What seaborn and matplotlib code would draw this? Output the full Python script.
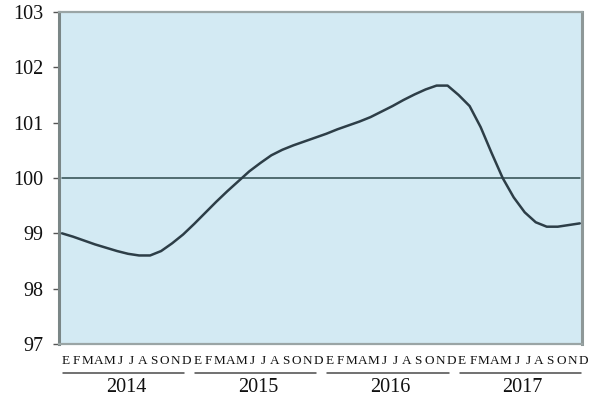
import numpy as np
import pandas as pd
import matplotlib
matplotlib.use("Agg")
import matplotlib.pyplot as plt
import matplotlib.transforms as mtransforms
import seaborn as sns

# Monthly index values, January 2014 – December 2017
years = ["2014", "2015", "2016", "2017"]
month_letters = ["E", "F", "M", "A", "M", "J", "J", "A", "S", "O", "N", "D"]
index_values = [
    99.00, 98.94, 98.87, 98.80, 98.74, 98.68, 98.63, 98.60, 98.60, 98.68, 98.82, 98.98,
    99.17, 99.37, 99.57, 99.76, 99.94, 100.12, 100.27, 100.41, 100.51, 100.59, 100.66, 100.73,
    100.80, 100.88, 100.95, 101.02, 101.10, 101.20, 101.30, 101.41, 101.51, 101.60, 101.67, 101.67,
    101.50, 101.30, 100.92, 100.45, 100.00, 99.65, 99.38, 99.20, 99.12, 99.12, 99.15, 99.18,
]
base_level = 100
y_ticks = [97, 98, 99, 100, 101, 102, 103]

n_months = len(index_values)
df = pd.DataFrame({"t": np.arange(n_months), "value": index_values})

sns.set_theme(style="white")
plt.rcParams["font.family"] = ["Liberation Serif", "DejaVu Serif"]

fig = plt.figure(figsize=(5.95, 3.98), dpi=100)
ax = fig.add_axes([59 / 595, 1 - 344 / 398, (582 - 59) / 595, (344 - 12) / 398])
ax.set_facecolor("#d3eaf3")

# Base-100 reference line across the period
ax.plot([0, n_months - 1], [base_level, base_level], color="#2c4a4c", lw=1.1, zorder=2)

sns.lineplot(data=df, x="t", y="value", ax=ax, color="#2d3e47", lw=1.8, zorder=3)

ax.set_xlim(-0.27, n_months - 1 + 0.2)
ax.set_ylim(97, 103)
ax.set_yticks(y_ticks)
ax.set_yticklabels([str(v) for v in y_ticks], fontsize=14.5, color="#111111")
ax.set_xticks([])
ax.set_xlabel("")
ax.set_ylabel("")
ax.tick_params(axis="y", which="major", direction="out", length=4, width=1.0,
               color="#555555", pad=7, left=True)

ax.spines["left"].set_color("#7a8686")
ax.spines["left"].set_linewidth(2.2)
ax.spines["right"].set_color("#8e9898")
ax.spines["right"].set_linewidth(2.2)
ax.spines["top"].set_color("#9aa5a5")
ax.spines["top"].set_linewidth(1.6)
ax.spines["bottom"].set_color("#9aa5a5")
ax.spines["bottom"].set_linewidth(1.6)

trans = mtransforms.blended_transform_factory(ax.transData, ax.transAxes)
ax_h = (344 - 12)

# Month initials under each month
for i in range(n_months):
    ax.text(i + 0.3, -(361 - 344) / ax_h, month_letters[i % 12], transform=trans,
            ha="center", va="center", fontsize=9.5, color="#111111", clip_on=False)

# Year brackets and labels
for k, yr in enumerate(years):
    x0 = k * 12 + 0.1
    x1 = k * 12 + 11.1
    ax.plot([x0, x1], [-(373 - 344) / ax_h] * 2, transform=trans, color="#4a4a4a",
            lw=1.1, clip_on=False)
    ax.text((x0 + x1) / 2 + 0.2, -(388 - 344) / ax_h, yr, transform=trans,
            ha="center", va="center", fontsize=14.5, color="#111111", clip_on=False)

fig.savefig("out.png", dpi=100, facecolor="white")
